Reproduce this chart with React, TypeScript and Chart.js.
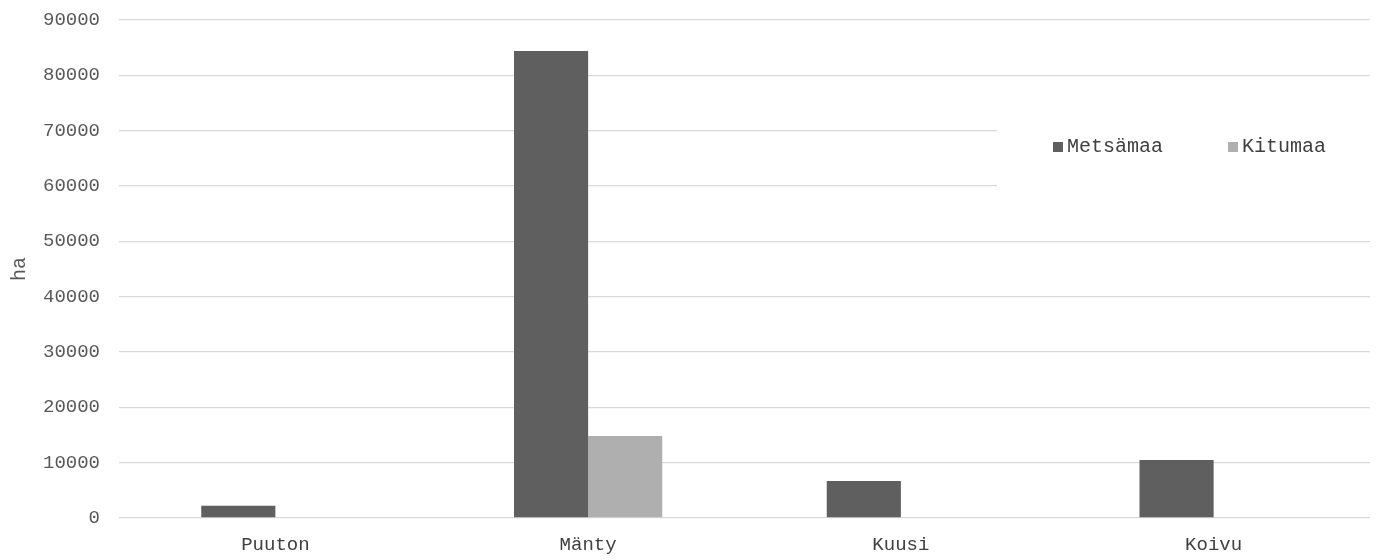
import React, { useEffect, useRef } from "react";
import { Chart, registerables } from "chart.js";

Chart.register(...registerables);

const categories = ["Puuton", "Mänty", "Kuusi", "Koivu"];
const metsamaa = [2200, 84400, 6700, 10500];
const kitumaa = [0, 14800, 0, 0];
const seriesLabels = ["Metsämaa", "Kitumaa"];
const seriesColors = ["#5f5f5f", "#afafaf"];
const yTicks = [0, 10000, 20000, 30000, 40000, 50000, 60000, 70000, 80000, 90000];

const FONT = "'Liberation Mono', 'Courier New', monospace";

const legendPlugin = {
  id: "insideLegend",
  afterDatasetsDraw(chart: any) {
    const ctx = chart.ctx;
    ctx.save();
    ctx.fillStyle = "#ffffff";
    ctx.fillRect(997, 108, 373, 92);
    ctx.font = `20px ${FONT}`;
    ctx.textBaseline = "middle";
    ctx.textAlign = "left";
    const items = chart.data.datasets;
    const xs = [1053, 1228];
    const y = 147;
    items.forEach((ds: any, i: number) => {
      ctx.fillStyle = ds.backgroundColor;
      ctx.fillRect(xs[i], y - 5, 10, 10);
      ctx.fillStyle = "#404040";
      ctx.fillText(ds.label, xs[i] + 14, y);
    });
    ctx.restore();
  },
};

export default function App() {
  const ref = useRef<HTMLCanvasElement | null>(null);
  useEffect(() => {
    document.body.style.margin = "0";
    const chart = new Chart(ref.current as HTMLCanvasElement, {
      type: "bar",
      data: {
        labels: categories,
        datasets: [
          { label: seriesLabels[0], data: metsamaa, backgroundColor: seriesColors[0] },
          { label: seriesLabels[1], data: kitumaa, backgroundColor: seriesColors[1] },
        ],
      },
      plugins: [legendPlugin],
      options: {
        animation: false,
        responsive: false,
        maintainAspectRatio: false,
        layout: { padding: { top: 20, right: 12, left: 0, bottom: 0 } },
        datasets: { bar: { barPercentage: 1, categoryPercentage: 0.474 } },
        plugins: { legend: { display: false }, tooltip: { enabled: false } },
        scales: {
          x: {
            grid: { display: false },
            border: { display: false },
            ticks: { color: "#404040", font: { family: FONT, size: 19 }, padding: 8 },
            afterFit: (s: any) => { s.height = 42; },
          },
          y: {
            min: 0,
            max: 90000,
            afterBuildTicks: (s: any) => { s.ticks = yTicks.map((v) => ({ value: v })); },
            grid: { color: "#d9d9d9", lineWidth: 1.3, drawTicks: false },
            border: { display: false },
            ticks: {
              color: "#595959",
              font: { family: FONT, size: 19 },
              padding: 19,
              callback: (v: any) => String(v),
            },
            title: {
              display: true,
              text: "ha",
              color: "#595959",
              font: { family: FONT, size: 20 },
              padding: { top: 8, bottom: 0 },
            },
            afterFit: (s: any) => {
              s.width = 119;
              s.paddingTop = 0;
              s.paddingBottom = 0;
            },
          },
        },
      },
    });
    return () => chart.destroy();
  }, []);
  return (
    <div style={{ width: 1382, height: 560 }}>
      <canvas ref={ref} width={1382} height={560} style={{ display: "block" }} />
    </div>
  );
}
